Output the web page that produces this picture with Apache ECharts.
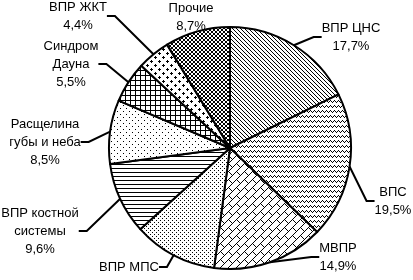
<!DOCTYPE html>
<html>
<head>
<meta charset="utf-8">
<script src="https://cdn.jsdelivr.net/npm/echarts@6/dist/echarts.min.js"></script>
<style>
  html, body { margin: 0; padding: 0; background: #fff; }
  #main { width: 413px; height: 280px; }
</style>
</head>
<body>
<div id="main"></div>
<script>
// данные
var categories = ["ВПР ЦНС", "ВПС", "МВПР", "ВПР МПС", "ВПР костной\nсистемы", "Расщелина\nгубы и неба", "Синдром\nДауна", "ВПР ЖКТ", "Прочие"];
var values = [17.7, 19.5, 14.9, 11.2, 9.6, 8.5, 5.5, 4.4, 8.7];
var pctLabels = ["17,7%", "19,5%", "14,9%", "", "9,6%", "8,5%", "5,5%", "4,4%", "8,7%"];

// pixel patterns, X = black
var patterns = [
  ["X...", ".X..", "..X.", "...X"],                       // ЦНС
  ["..X.", ".X.X", "X...", "....", "...."],                // ВПС волны
  [".......X", "......X.", ".....X..", "....X...", "...X.X..", "..X...X.", ".X.....X", "X......."], // МВПР
  ["X...", "....", "..X.", "...."],                       // МПС
  ["XXXX", "....", "....", "...."],                       // костной
  ["X.....", "......", "......", "...X..", "......", "......"], // расщелина
  ["XXXXX", "X....", "X....", "X....", "X...."],          // Дауна
  ["...X....", "..XXX...", "...X....", "........", ".......X", "X.....XX", ".......X", "........"], // ЖКТ
  ["X..X", ".XX.", ".XX.", "X..X"]                         // прочие
];

function makePattern(rows) {
  var c = document.createElement("canvas");
  c.width = rows[0].length;
  c.height = rows.length;
  var ctx = c.getContext("2d");
  ctx.fillStyle = "#fff";
  ctx.fillRect(0, 0, c.width, c.height);
  ctx.fillStyle = "#000";
  for (var y = 0; y < rows.length; y++) {
    for (var x = 0; x < rows[y].length; x++) {
      if (rows[y][x] === "X") ctx.fillRect(x, y, 1, 1);
    }
  }
  return { image: c, repeat: "repeat" };
}

// центры подписей
var labelPos = [[351, 37], [393, 201], [338, 257], [129, 267], [40, 231], [45, 142], [71, 64], [78, 16], [191, 17]];

var myChart = echarts.init(document.getElementById("main"));
var data = values.map(function (v, i) {
  return {
    name: categories[i],
    value: v,
    itemStyle: { color: makePattern(patterns[i]) }
  };
});

var option = {
  animation: false,
  series: [
    {
      type: "pie",
      center: [230, 148],
      radius: 121,
      startAngle: 90,
      clockwise: true,
      data: data,
      itemStyle: { borderColor: "#000", borderWidth: 2 },
      label: {
        show: true,
        position: "outside",
        color: "#000",
        fontFamily: "Liberation Sans, Arial, sans-serif",
        fontSize: 13,
        lineHeight: 18,
        align: "center",
        formatter: function (p) {
          var pct = pctLabels[p.dataIndex];
          return pct ? p.name + "\n" + pct : p.name;
        }
      },
      labelLine: {
        show: true,
        length: 8,
        length2: 8,
        lineStyle: { color: "#000", width: 2 }
      },
      labelLayout: function (params) {
        var pos = labelPos[params.dataIndex];
        return { x: pos[0], y: pos[1], align: "center", verticalAlign: "middle" };
      },
      emphasis: { disabled: true }
    }
  ]
};
myChart.setOption(option);
</script>
</body>
</html>
